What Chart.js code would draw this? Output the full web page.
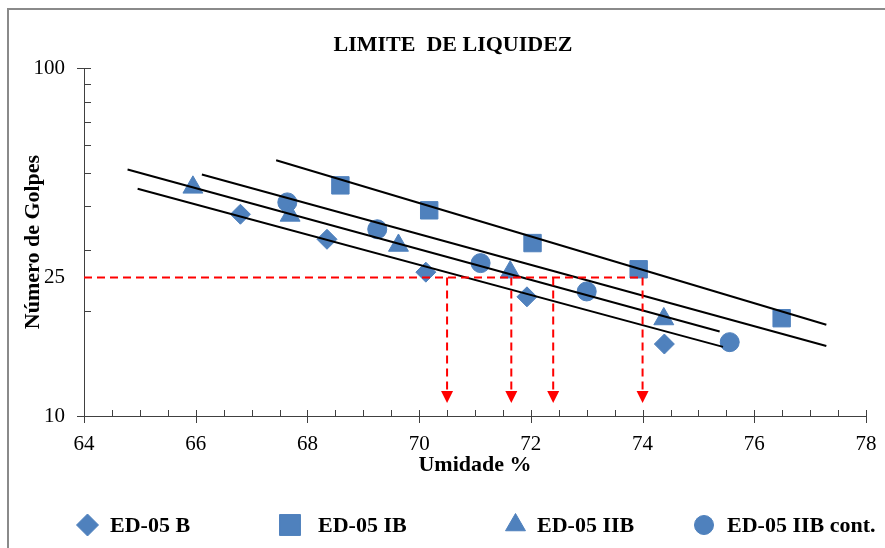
<!DOCTYPE html>
<html>
<head>
<meta charset="utf-8">
<script src="https://cdn.jsdelivr.net/npm/chart.js@4.4.1/dist/chart.umd.min.js"></script>
<style>
  html, body { margin: 0; padding: 0; background: #fff; }
</style>
</head>
<body>
<canvas id="graficoLL" width="885" height="548"></canvas>
<script>
// Pontos de ensaio (umidade %, número de golpes)
var umidadeB = [66.80, 68.35, 70.12, 71.93, 74.39];
var golpesB = [38.0, 32.2, 25.9, 22.0, 16.1];
var umidadeIB = [68.59, 70.18, 72.03, 73.93, 76.49];
var golpesIB = [46.0, 39.0, 31.4, 26.4, 19.1];
var umidadeIIB = [65.95, 67.69, 69.63, 71.63, 74.38];
var golpesIIB = [45.4, 37.7, 30.9, 25.9, 19.0];
var umidadeIIBc = [67.64, 69.25, 71.10, 73.00, 75.56];
var golpesIIBc = [41.1, 34.4, 27.5, 22.8, 16.3];

// Linhas de tendência: umidade inicial/final e golpes inicial/final
var tendUmidade = { B: [64.96, 75.44], IB: [67.44, 77.29], IIB: [64.78, 75.38], IIBc: [66.11, 77.29] };
var tendGolpes = { B: [45.0, 15.8], IB: [54.3, 18.3], IIB: [51.1, 17.5], IIBc: [49.4, 15.9] };

// Limite de liquidez (25 golpes) e leituras de umidade
var golpesLimite = 25;
var umidadeLimite = [70.5, 71.65, 72.4, 74.0];
var golpesFimSeta = 10.9;

var titulo = 'LIMITE  DE LIQUIDEZ';
var nomes = ['ED-05 B', 'ED-05 IB', 'ED-05 IIB', 'ED-05 IIB cont.'];
var ticksY = [10, 25, 100];
var minorY = [20, 30, 40, 50, 60, 70, 80, 90];

var azul = '#4F81BD';
var fonte = 'Liberation Serif';

function pontos(xs, ys) {
    return xs.map(function (x, i) { return { x: x, y: ys[i] }; });
}

function serie(nome, xs, ys, estilo, raio) {
    return {
        label: nome, data: pontos(xs, ys), pointStyle: estilo, pointRadius: raio, pointHoverRadius: raio,
        backgroundColor: azul, borderColor: azul, borderWidth: 1, order: 1
    };
}

function tendencia(k) {
    return {
        label: 'tend ' + k, data: pontos(tendUmidade[k], tendGolpes[k]), showLine: true,
        borderColor: '#000', borderWidth: 2, pointRadius: 0, order: 0
    };
}

var estilosLegenda = [
    { estilo: 'rectRot', raio: 11, mx: 87.5, tx: 110 },
    { estilo: 'rect', raio: 14.8, mx: 290, tx: 318 },
    { estilo: 'triangle', raio: 11.5, mx: 515.5, tx: 537 },
    { estilo: 'circle', raio: 9.5, mx: 704, tx: 727 }
];

var extras = {
    id: 'extras',
    beforeDraw: function (chart) {
        var ctx = chart.ctx;
        ctx.save();
        ctx.fillStyle = '#fff';
        ctx.fillRect(0, 0, chart.width, chart.height);
        ctx.strokeStyle = '#8a8a8a';
        ctx.lineWidth = 2;
        ctx.strokeRect(8, 9, 1200, 1200);
        ctx.restore();
    },
    afterDatasetsDraw: function (chart) {
        var ctx = chart.ctx, sx = chart.scales.x, sy = chart.scales.y;
        var ca = chart.chartArea;
        ctx.save();
        // linhas tracejadas vermelhas
        ctx.strokeStyle = '#FF0000';
        ctx.fillStyle = '#FF0000';
        ctx.lineWidth = 2;
        ctx.setLineDash([8, 5]);
        var yl = sy.getPixelForValue(golpesLimite);
        ctx.beginPath();
        ctx.moveTo(ca.left, yl);
        ctx.lineTo(sx.getPixelForValue(Math.max.apply(null, umidadeLimite)), yl);
        ctx.stroke();
        var yFim = sy.getPixelForValue(golpesFimSeta);
        umidadeLimite.forEach(function (u) {
            var px = sx.getPixelForValue(u);
            ctx.setLineDash([8, 5]);
            ctx.beginPath();
            ctx.moveTo(px, yl);
            ctx.lineTo(px, yFim - 11);
            ctx.stroke();
            ctx.setLineDash([]);
            ctx.beginPath();
            ctx.moveTo(px - 6, yFim - 12);
            ctx.lineTo(px + 6, yFim - 12);
            ctx.lineTo(px, yFim);
            ctx.closePath();
            ctx.fill();
        });
        ctx.restore();

        // marcas dos eixos
        ctx.save();
        ctx.strokeStyle = '#404040';
        ctx.lineWidth = 1;
        ctx.beginPath();
        for (var v = sx.min; v <= sx.max + 0.001; v += 0.5) {
            var px = Math.round(sx.getPixelForValue(v)) + 0.5;
            var maior = Math.abs(v % 2) < 0.001;
            ctx.moveTo(px, ca.bottom - 6);
            ctx.lineTo(px, ca.bottom + (maior ? 7 : 0));
        }
        ticksY.concat(minorY).forEach(function (g) {
            if (g === 25) return;
            var py = Math.round(sy.getPixelForValue(g)) + 0.5;
            var maior = (g === 10 || g === 100);
            ctx.moveTo(ca.left - (maior ? 7 : 0), py);
            ctx.lineTo(ca.left + 7, py);
        });
        ctx.stroke();
        ctx.restore();
    },
    afterDraw: function (chart) {
        var ctx = chart.ctx;
        ctx.save();
        // título
        ctx.fillStyle = '#000';
        ctx.font = 'bold 22px "' + fonte + '"';
        ctx.textAlign = 'center';
        ctx.textBaseline = 'middle';
        ctx.fillText(titulo, 453, 45);
        // legenda
        var yLeg = 525;
        ctx.textAlign = 'left';
        estilosLegenda.forEach(function (it, i) {
            ctx.fillStyle = azul;
            ctx.strokeStyle = azul;
            ctx.lineWidth = 1;
            Chart.helpers.drawPoint(ctx, { pointStyle: it.estilo, radius: it.raio, rotation: 0, borderWidth: 1 }, it.mx, yLeg);
            ctx.fillStyle = '#000';
            ctx.fillText(nomes[i], it.tx, yLeg + 1);
        });
        ctx.restore();
    }
};

Chart.defaults.font.family = fonte;
Chart.defaults.color = '#000';

new Chart(document.getElementById('graficoLL').getContext('2d'), {
    type: 'scatter',
    data: {
        datasets: [
            tendencia('IB'), tendencia('IIBc'), tendencia('IIB'), tendencia('B'),
            serie(nomes[0], umidadeB, golpesB, 'rectRot', 10),
            serie(nomes[1], umidadeIB, golpesIB, 'rect', 12.3),
            serie(nomes[2], umidadeIIB, golpesIIB, 'triangle', 11.5),
            serie(nomes[3], umidadeIIBc, golpesIIBc, 'circle', 9.5)
        ]
    },
    options: {
        responsive: false,
        animation: false,
        layout: { padding: { left: 0, right: 19, top: 68, bottom: 0 } },
        plugins: {
            legend: { display: false },
            tooltip: { enabled: false },
            title: { display: false }
        },
        scales: {
            x: {
                type: 'linear',
                min: 64, max: 78,
                grid: { display: false, drawTicks: false },
                border: { display: true, color: '#404040', width: 1 },
                ticks: { stepSize: 2, padding: 16, color: '#000', font: { family: fonte, size: 21 } },
                title: {
                    display: true, text: 'Umidade %', color: '#000',
                    font: { family: fonte, size: 22, weight: 'bold' },
                    padding: { top: 0, bottom: 69 }
                },
                afterFit: function (s) { s.height = 132; s.paddingLeft = 0; s.paddingRight = 0; }
            },
            y: {
                type: 'logarithmic',
                min: 10, max: 100,
                grid: { display: false, drawTicks: false },
                border: { display: true, color: '#404040', width: 1 },
                afterBuildTicks: function (s) { s.ticks = ticksY.map(function (v) { return { value: v }; }); },
                ticks: {
                    padding: 19, color: '#000', font: { family: fonte, size: 21 },
                    callback: function (v) { return String(v); }
                },
                title: {
                    display: true, text: 'Número de Golpes', color: '#000',
                    font: { family: fonte, size: 22, weight: 'bold' },
                    padding: { top: 20, bottom: 0 }
                },
                afterFit: function (s) { s.width = 84; s.paddingTop = 0; s.paddingBottom = 0; }
            }
        }
    },
    plugins: [extras]
});
</script>
</body>
</html>
